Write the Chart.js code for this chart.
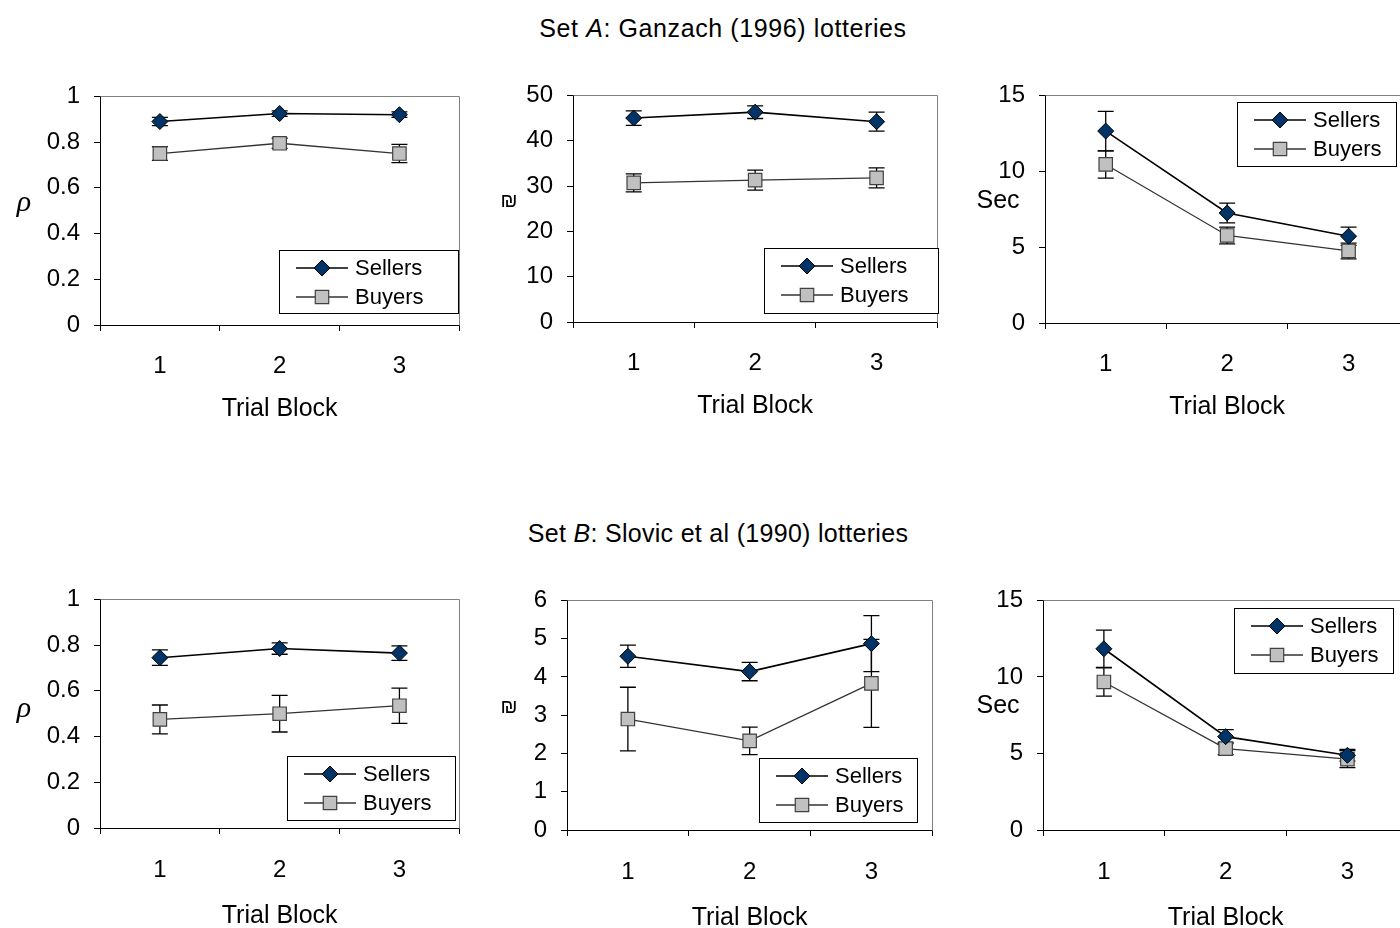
<!DOCTYPE html>
<html>
<head>
<meta charset="utf-8">
<script src="https://cdn.jsdelivr.net/npm/chart.js@4.4.0/dist/chart.umd.min.js"></script>
<style>
    html, body {
        margin: 0;
        padding: 0;
        width: 1400px;
        height: 928px;
        overflow: hidden;
        background: #fff;
        font-family: "Liberation Sans", Arial, sans-serif;
    }
    .panel { position: absolute; }
    .set-title {
        position: absolute;
        left: 0;
        text-align: center;
        font-size: 25px;
        line-height: 25px;
        letter-spacing: 0.6px;
        color: #000;
    }
</style>
</head>
<body>
<div class="set-title" style="top:16px; width:1446px">Set <i>A</i>: Ganzach (1996) lotteries</div>
<div class="set-title" style="top:521px; width:1436px; letter-spacing:0.3px">Set <i>B</i>: Slovic et al (1990) lotteries</div>
<div class="panel" id="p1"></div>
<div class="panel" id="p2"></div>
<div class="panel" id="p3"></div>
<div class="panel" id="p4"></div>
<div class="panel" id="p5"></div>
<div class="panel" id="p6"></div>

<script>
// Trial blocks (x categories)
const trialBlocks = ['1', '2', '3'];

// Set A: Ganzach (1996) lotteries
const rhoASellers = [0.89, 0.925, 0.92];
const rhoASellersErr = [0.018, 0.012, 0.012];
const rhoABuyers = [0.75, 0.795, 0.75];
const rhoABuyersErr = [0.03, 0.022, 0.04];

const priceASellers = [45.0, 46.3, 44.2];
const priceASellersErr = [1.6, 1.4, 2.1];
const priceABuyers = [30.7, 31.3, 31.8];
const priceABuyersErr = [2.0, 2.2, 2.2];

const timeASellers = [12.65, 7.25, 5.72];
const timeASellersErr = [1.3, 0.65, 0.6];
const timeABuyers = [10.45, 5.77, 4.75];
const timeABuyersErr = [0.9, 0.55, 0.52];

// Set B: Slovic et al (1990) lotteries
const rhoBSellers = [0.745, 0.785, 0.765];
const rhoBSellersErr = [0.034, 0.025, 0.032];
const rhoBBuyers = [0.475, 0.50, 0.535];
const rhoBBuyersErr = [0.063, 0.08, 0.077];

const priceBSellers = [4.54, 4.14, 4.87];
const priceBSellersErr = [0.29, 0.24, 0.73];
const priceBBuyers = [2.9, 2.33, 3.83];
const priceBBuyersErr = [0.83, 0.36, 1.15];

const timeBSellers = [11.84, 6.1, 4.88];
const timeBSellersErr = [1.22, 0.46, 0.38];
const timeBBuyers = [9.67, 5.32, 4.63];
const timeBBuyersErr = [0.92, 0.4, 0.55];

const RHO_FONT = 'italic 30px "Liberation Serif", "DejaVu Serif", serif';
const SHEQEL_FONT = '20px "Liberation Sans", "DejaVu Sans", sans-serif';
const SEC_FONT = '25px "Liberation Sans", Arial, sans-serif';

// Layout: plot area [left, top, right, bottom] in page pixels
const AXIS_W = 100;
const PAD_TOP = 20;
const PAD_RIGHT = 10;

const panels = [
    { id: 'p1', area: [100, 88, 460, 325], axisH: 103, tickPad: 21, yMax: 1, step: 0.2,
      yTitle: 'ρ', yTitleFont: RHO_FONT, yTitlePos: [24, 203], legend: [279, 250, 179, 63],
      sellers: rhoASellers, sellersErr: rhoASellersErr, buyers: rhoABuyers, buyersErr: rhoABuyersErr },
    { id: 'p2', area: [573, 87, 938, 322], axisH: 103, tickPad: 21, yMax: 50, step: 10,
      yTitle: '₪', yTitleFont: SHEQEL_FONT, yTitlePos: [509, 201], legend: [764, 248, 174, 65],
      sellers: priceASellers, sellersErr: priceASellersErr, buyers: priceABuyers, buyersErr: priceABuyersErr },
    { id: 'p3', area: [1045, 87, 1410, 323], axisH: 103, tickPad: 21, yMax: 15, step: 5,
      yTitle: 'Sec', yTitleFont: SEC_FONT, yTitlePos: [998, 201], legend: [1237, 102, 159, 64],
      sellers: timeASellers, sellersErr: timeASellersErr, buyers: timeABuyers, buyersErr: timeABuyersErr },
    { id: 'p4', area: [100, 591, 460, 828], axisH: 107, tickPad: 22, yMax: 1, step: 0.2,
      yTitle: 'ρ', yTitleFont: RHO_FONT, yTitlePos: [24, 709], legend: [287, 756, 168, 64],
      sellers: rhoBSellers, sellersErr: rhoBSellersErr, buyers: rhoBBuyers, buyersErr: rhoBBuyersErr },
    { id: 'p5', area: [567, 592, 933, 830], axisH: 107, tickPad: 22, yMax: 6, step: 1,
      yTitle: '₪', yTitleFont: SHEQEL_FONT, yTitlePos: [509, 707], legend: [759, 758, 158, 64],
      sellers: priceBSellers, sellersErr: priceBSellersErr, buyers: priceBBuyers, buyersErr: priceBBuyersErr },
    { id: 'p6', area: [1043, 592, 1409, 830], axisH: 107, tickPad: 22, yMax: 15, step: 5,
      yTitle: 'Sec', yTitleFont: SEC_FONT, yTitlePos: [998, 706], legend: [1234, 608, 159, 65],
      sellers: timeBSellers, sellersErr: timeBSellersErr, buyers: timeBBuyers, buyersErr: timeBBuyersErr }
];

Chart.defaults.font.family = '"Liberation Sans", Arial, sans-serif';
Chart.defaults.color = '#000';

// gray frame on top/right of plot area
const plotFrame = {
    id: 'plotFrame',
    beforeDatasetsDraw(chart) {
        const { ctx, chartArea: a } = chart;
        ctx.save();
        ctx.strokeStyle = '#808080';
        ctx.lineWidth = 1;
        ctx.beginPath();
        ctx.moveTo(Math.round(a.left) + 0.5, Math.round(a.top) + 0.5);
        ctx.lineTo(Math.round(a.right) + 0.5, Math.round(a.top) + 0.5);
        ctx.lineTo(Math.round(a.right) + 0.5, Math.round(a.bottom) + 0.5);
        ctx.stroke();
        ctx.restore();
    }
};

// vertical error bars with caps, under the markers
const errorBars = {
    id: 'errorBars',
    beforeDatasetsDraw(chart) {
        const ctx = chart.ctx;
        const yScale = chart.scales.y;
        ctx.save();
        ctx.strokeStyle = '#000';
        ctx.lineWidth = 1.3;
        chart.data.datasets.forEach((ds, i) => {
            chart.getDatasetMeta(i).data.forEach((pt, j) => {
                const v = ds.data[j];
                const e = ds.errors[j];
                const top = yScale.getPixelForValue(v + e);
                const bot = yScale.getPixelForValue(v - e);
                ctx.beginPath();
                ctx.moveTo(pt.x, top);
                ctx.lineTo(pt.x, bot);
                ctx.moveTo(pt.x - 8, top);
                ctx.lineTo(pt.x + 8, top);
                ctx.moveTo(pt.x - 8, bot);
                ctx.lineTo(pt.x + 8, bot);
                ctx.stroke();
            });
        });
        ctx.restore();
    }
};

function drawMarker(ctx, ds, x, y) {
    ctx.fillStyle = ds.pointBackgroundColor;
    ctx.strokeStyle = ds.pointBorderColor;
    ctx.lineWidth = ds.pointBorderWidth;
    Chart.helpers.drawPoint(ctx, {
        pointStyle: ds.pointStyle,
        radius: ds.pointRadius,
        rotation: 0,
        borderWidth: ds.pointBorderWidth
    }, x, y);
}

function makePanel(p) {
    const [L, T, R, B] = p.area;
    const offX = L - AXIS_W;
    const offY = T - PAD_TOP;
    const wrap = document.getElementById(p.id);
    wrap.style.left = offX + 'px';
    wrap.style.top = offY + 'px';
    wrap.style.width = (R - L + AXIS_W + PAD_RIGHT) + 'px';
    wrap.style.height = (B - T + PAD_TOP + p.axisH) + 'px';
    const canvas = document.createElement('canvas');
    wrap.appendChild(canvas);

    // legend box and horizontal y title, placed in page coordinates
    const extras = {
        id: 'extras',
        afterDatasetsDraw(chart) {
            const ctx = chart.ctx;
            ctx.save();
            const [lx, ly, lw, lh] = p.legend;
            const x0 = lx - offX;
            const y0 = ly - offY;
            ctx.fillStyle = '#fff';
            ctx.fillRect(x0, y0, lw, lh);
            ctx.strokeStyle = '#000';
            ctx.lineWidth = 1;
            ctx.strokeRect(x0 + 0.5, y0 + 0.5, lw, lh);
            chart.data.datasets.forEach((ds, i) => {
                const ry = y0 + 18 + i * 29;
                ctx.strokeStyle = ds.borderColor;
                ctx.lineWidth = ds.borderWidth;
                ctx.beginPath();
                ctx.moveTo(x0 + 17, ry);
                ctx.lineTo(x0 + 69, ry);
                ctx.stroke();
                drawMarker(ctx, ds, x0 + 43, ry);
                ctx.fillStyle = '#000';
                ctx.font = '22px "Liberation Sans", Arial, sans-serif';
                ctx.textAlign = 'left';
                ctx.textBaseline = 'middle';
                ctx.fillText(ds.label, x0 + 76, ry + 1);
            });

            ctx.fillStyle = '#000';
            ctx.font = p.yTitleFont;
            ctx.textAlign = 'center';
            ctx.textBaseline = 'middle';
            ctx.fillText(p.yTitle, p.yTitlePos[0] - offX, p.yTitlePos[1] - offY);
            ctx.restore();
        }
    };

    new Chart(canvas, {
        type: 'line',
        data: {
            labels: trialBlocks,
            datasets: [
                {
                    label: 'Sellers',
                    data: p.sellers,
                    errors: p.sellersErr,
                    borderColor: '#000',
                    borderWidth: 1.6,
                    pointStyle: 'rectRot',
                    pointRadius: 8,
                    pointBackgroundColor: '#003366',
                    pointBorderColor: '#000',
                    pointBorderWidth: 1
                },
                {
                    label: 'Buyers',
                    data: p.buyers,
                    errors: p.buyersErr,
                    borderColor: '#333',
                    borderWidth: 1.3,
                    pointStyle: 'rect',
                    pointRadius: 9.5,
                    pointBackgroundColor: '#c0c0c0',
                    pointBorderColor: '#404040',
                    pointBorderWidth: 1.2
                }
            ]
        },
        options: {
            responsive: true,
            maintainAspectRatio: false,
            animation: false,
            events: [],
            layout: { padding: { top: PAD_TOP, right: PAD_RIGHT, left: 0, bottom: 0 } },
            plugins: {
                legend: { display: false },
                tooltip: { enabled: false }
            },
            scales: {
                x: {
                    offset: true,
                    grid: { offset: true, drawOnChartArea: false, color: '#000', tickLength: 6 },
                    border: { color: '#000', width: 1 },
                    ticks: { font: { size: 24 }, color: '#000', padding: p.tickPad, maxRotation: 0 },
                    title: {
                        display: true,
                        text: 'Trial Block',
                        font: { size: 25 },
                        color: '#000',
                        padding: { top: 0, bottom: 4 }
                    },
                    afterFit(scale) { scale.height = p.axisH; }
                },
                y: {
                    min: 0,
                    max: p.yMax,
                    grid: { drawOnChartArea: false, color: '#000', tickLength: 6 },
                    border: { color: '#000', width: 1 },
                    ticks: {
                        stepSize: p.step,
                        font: { size: 24 },
                        color: '#000',
                        padding: 14,
                        callback: v => String(+v.toFixed(2))
                    },
                    afterFit(scale) { scale.width = AXIS_W; }
                }
            }
        },
        plugins: [plotFrame, errorBars, extras]
    });
}

panels.forEach(makePanel);
</script>
</body>
</html>
